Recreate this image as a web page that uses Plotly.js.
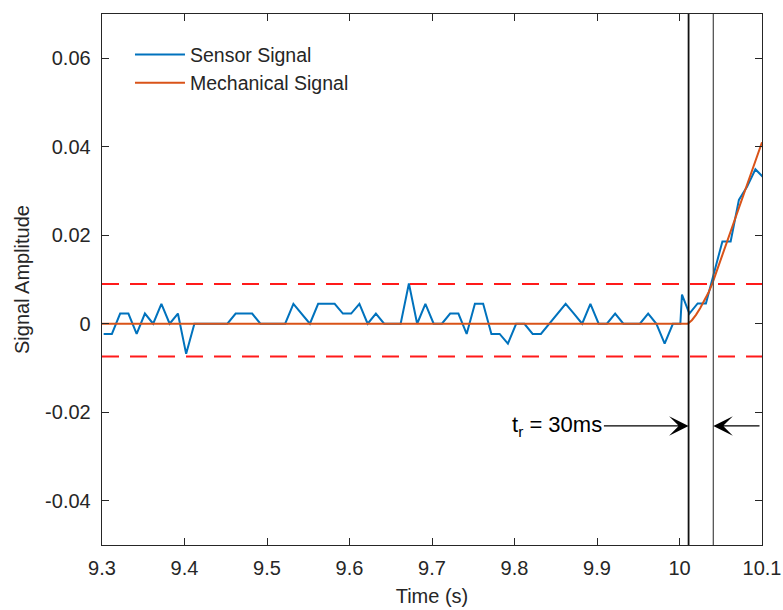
<!DOCTYPE html>
<html>
<head>
<meta charset="utf-8">
<script src="https://cdn.plot.ly/plotly-3.0.1.min.js"></script>
<style>
  html, body { margin: 0; padding: 0; background: #fff; }
  #plot { width: 783px; height: 610px; }
</style>
</head>
<body>
<div id="plot"></div>
<script>
// Sensor signal samples (s, amplitude)
const sensorTime = [
  9.302, 9.312, 9.322, 9.332, 9.342, 9.352, 9.362, 9.372, 9.382, 9.392,
  9.402, 9.412, 9.422, 9.432, 9.442, 9.452, 9.462, 9.472, 9.482, 9.492,
  9.502, 9.512, 9.522, 9.532, 9.542, 9.552, 9.562, 9.572, 9.582, 9.592,
  9.602, 9.612, 9.622, 9.632, 9.642, 9.652, 9.662, 9.672, 9.682, 9.692,
  9.702, 9.712, 9.722, 9.732, 9.742, 9.752, 9.762, 9.772, 9.782, 9.792,
  9.802, 9.812, 9.822, 9.832, 9.842, 9.852, 9.862, 9.872, 9.882, 9.892,
  9.902, 9.912, 9.922, 9.932, 9.942, 9.952, 9.962, 9.972, 9.982, 9.992,
  10.001, 10.003, 10.012, 10.022, 10.032, 10.042, 10.052, 10.062, 10.072, 10.082,
  10.092, 10.102
];
const sensorValue = [
  -0.0023, -0.0023, 0.0023, 0.0023, -0.0023, 0.0023, 0, 0.0045, 0, 0.0023,
  -0.0068, 0, 0, 0, 0, 0, 0.0023, 0.0023, 0.0023, 0,
  0, 0, 0, 0.0045, 0.0023, 0, 0.0045, 0.0045, 0.0045, 0.0023,
  0.0023, 0.0045, 0, 0.0023, 0, 0, 0, 0.0091, 0, 0.0045,
  0, 0, 0.0023, 0.0023, -0.0023, 0.0045, 0.0045, -0.0023, -0.0023, -0.0045,
  0, 0, -0.0023, -0.0023, 0, 0.0023, 0.0045, 0.0023, 0, 0.0045,
  0, 0, 0.0023, 0, 0, 0, 0.0023, 0, -0.0045, 0,
  0, 0.0066, 0.0023, 0.0046, 0.0046, 0.0116, 0.0186, 0.0186, 0.028, 0.031,
  0.0349, 0.033
];

// Mechanical signal (s, amplitude)
const mechTime = [
  9.3, 10.0, 10.01, 10.015, 10.02, 10.025, 10.03, 10.035, 10.04,
  10.05, 10.06, 10.07, 10.08, 10.09, 10.1
];
const mechValue = [
  0, 0, 0, 0.0008, 0.002, 0.0035, 0.0052, 0.007, 0.0092,
  0.0145, 0.0198, 0.0252, 0.0305, 0.0358, 0.041
];

// Detection thresholds
const upperThreshold = 0.009;
const lowerThreshold = -0.0074;

// Rise time markers
const riseStart = 10.011;
const riseTime = 0.030;
const riseEnd = riseStart + riseTime;
const riseLabel = 't<sub>r</sub> = 30ms';
const arrowLevel = -0.0231;

// Axis ticks
const xTicks = [9.3, 9.4, 9.5, 9.6, 9.7, 9.8, 9.9, 10.0, 10.1];
const xTickLabels = ['9.3', '9.4', '9.5', '9.6', '9.7', '9.8', '9.9', '10', '10.1'];
const yTicks = [-0.04, -0.02, 0, 0.02, 0.04, 0.06];
const yTickLabels = ['-0.04', '-0.02', '0', '0.02', '0.04', '0.06'];

const ink = '#262626';
const fontFamily = '"Liberation Sans", Arial, sans-serif';

const traces = [
  {
    x: sensorTime, y: sensorValue, type: 'scatter', mode: 'lines',
    name: 'Sensor Signal', legendgroup: 'a',
    line: { color: '#0072BD', width: 2 }
  },
  {
    x: mechTime, y: mechValue, type: 'scatter', mode: 'lines',
    name: 'Mechanical Signal', legendgroup: 'b',
    line: { color: '#D95319', width: 2 }
  }
];

const dashed = { color: '#FF1A1A', width: 2, dash: '17px,11px' };

const layout = {
  width: 783, height: 610,
  margin: { l: 102, r: 21, t: 14, b: 65 },
  paper_bgcolor: '#fff', plot_bgcolor: '#fff',
  font: { family: fontFamily, size: 20, color: ink },
  showlegend: true,
  legend: {
    x: 0.0424, y: 0.96, xanchor: 'left', yanchor: 'top',
    bgcolor: 'rgba(0,0,0,0)', borderwidth: 0,
    font: { size: 19.5, color: ink },
    itemwidth: 50,
    tracegroupgap: 0
  },
  xaxis: {
    range: [9.3, 10.1], tickvals: xTicks, ticktext: xTickLabels,
    ticks: 'inside', ticklen: 7, tickwidth: 1, tickcolor: ink,
    showline: true, linecolor: ink, linewidth: 1.3, mirror: 'ticks',
    showgrid: false, zeroline: false,
    ticklabelstandoff: 5,
    tickfont: { size: 20, color: ink },
    title: { text: 'Time (s)', font: { size: 20, color: ink }, standoff: 10 }
  },
  yaxis: {
    range: [-0.05, 0.07], tickvals: yTicks, ticktext: yTickLabels,
    ticks: 'inside', ticklen: 7, tickwidth: 1, tickcolor: ink,
    showline: true, linecolor: ink, linewidth: 1.3, mirror: 'ticks',
    showgrid: false, zeroline: false,
    ticklabelstandoff: 6,
    tickfont: { size: 20, color: ink },
    title: { text: 'Signal Amplitude', font: { size: 20, color: ink }, standoff: 10 }
  },
  shapes: [
    { type: 'line', xref: 'paper', x0: 0, x1: 1, yref: 'y', y0: upperThreshold, y1: upperThreshold, line: dashed, layer: 'above' },
    { type: 'line', xref: 'paper', x0: 0, x1: 1, yref: 'y', y0: lowerThreshold, y1: lowerThreshold, line: dashed, layer: 'above' },
    { type: 'line', xref: 'x', x0: riseStart, x1: riseStart, yref: 'paper', y0: 0, y1: 1, line: { color: '#111', width: 1.8 }, layer: 'above' },
    { type: 'line', xref: 'x', x0: riseEnd, x1: riseEnd, yref: 'paper', y0: 0, y1: 1, line: { color: '#555', width: 1.3 }, layer: 'above' }
  ],
  annotations: [
    {
      text: riseLabel, x: riseStart, y: arrowLevel, xref: 'x', yref: 'y',
      ax: 9.852, ay: arrowLevel, axref: 'x', ayref: 'y',
      showarrow: true, arrowhead: 3, arrowsize: 2.5, arrowwidth: 1.3, arrowcolor: '#000',
      font: { size: 22, color: '#000' }
    },
    {
      text: ' ', x: riseEnd, y: arrowLevel, xref: 'x', yref: 'y',
      ax: 10.1, ay: arrowLevel, axref: 'x', ayref: 'y',
      showarrow: true, arrowhead: 3, arrowsize: 2.5, arrowwidth: 1.3, arrowcolor: '#000',
      font: { size: 6 }
    }
  ]
};

Plotly.newPlot('plot', traces, layout, { staticPlot: true, displayModeBar: false });
</script>
</body>
</html>
